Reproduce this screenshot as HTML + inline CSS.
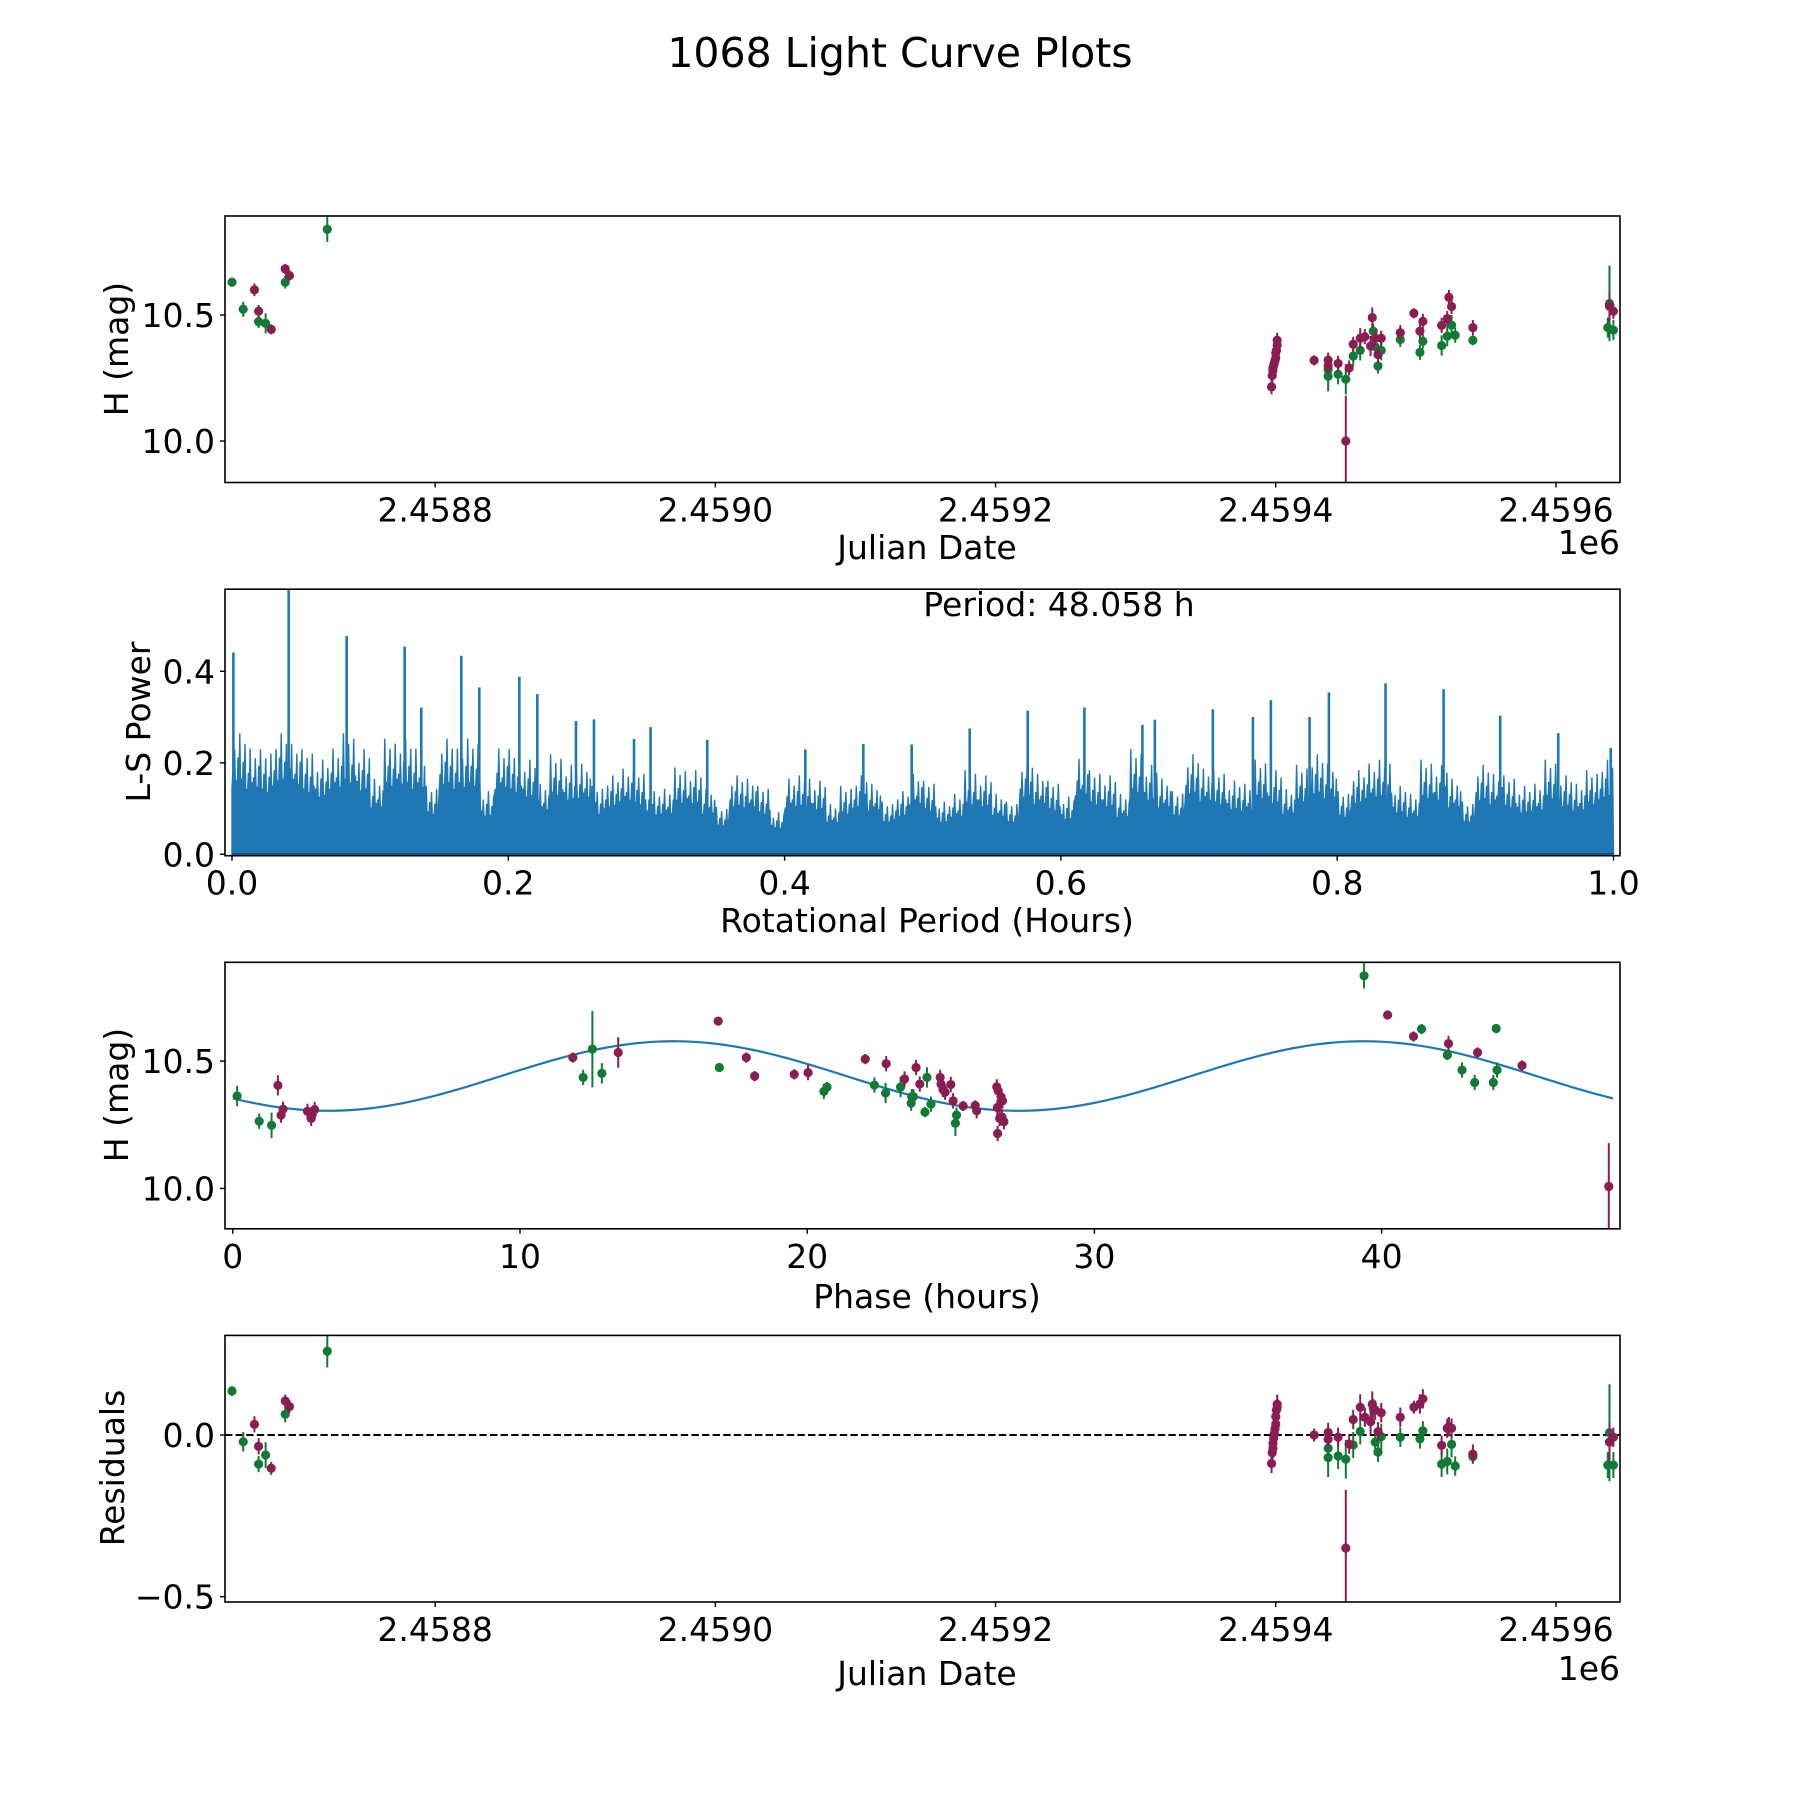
<!DOCTYPE html>
<html><head><meta charset="utf-8"><title>1068 Light Curve Plots</title>
<style>
html,body{margin:0;padding:0;background:#fff;}
svg{display:block;font-family:"DejaVu Sans","Liberation Sans",sans-serif;}
</style></head>
<body>
<svg id="fig" xmlns="http://www.w3.org/2000/svg" width="1800" height="1800" viewBox="0 0 1800 1800">
<rect x="0" y="0" width="1800" height="1800" fill="#fff"/>
<text x="900" y="67" font-size="41" text-anchor="middle">1068 Light Curve Plots</text>
</svg>
<script>
// ---------- data: panel 1 (H mag vs Julian Date) ----------
const greenJD = [2458655,2458663,2458674,2458679,2458693,2458723,2459437.4,2459437.4,2459444.5,2459450,2459455.3,2459460.3,2459469.6,2459471,2459473,2459475.3,2459488.9,2459502.9,2459505,2459518.4,2459522.4,2459525.5,2459528.1,2459540.7,2459637,2459638.2,2459641];
const greenMag = [10.63,10.523,10.474,10.467,10.63,10.84,10.283,10.257,10.265,10.245,10.337,10.36,10.436,10.374,10.298,10.36,10.403,10.352,10.396,10.379,10.416,10.46,10.42,10.4,10.45,10.546,10.44];
const greenErr = [0.015,0.03,0.025,0.04,0.025,0.05,0.03,0.06,0.04,0.06,0.04,0.04,0.03,0.04,0.03,0.04,0.03,0.03,0.03,0.04,0.04,0.04,0.03,0.02,0.04,0.15,0.04];
const greenRes = [0.136,-0.021,-0.09,-0.062,0.064,0.259,-0.041,-0.07,-0.065,-0.075,-0.031,0.011,0.082,-0.022,-0.053,-0.005,-0.007,-0.012,0.013,-0.09,-0.082,-0.029,-0.096,-0.067,-0.093,0.007,-0.093];

const magJD = [2458671,2458674,2458683,2458693,2458696,2459397,2459397.5,2459398,2459398,2459398.5,2459399,2459399.5,2459400,2459400,2459400.5,2459401,2459401,2459427.4,2459437.4,2459437.4,2459444.5,2459450,2459452.4,2459455.3,2459460.3,2459463.6,2459467.7,2459468.9,2459471,2459473,2459475.3,2459488.9,2459498.6,2459502.9,2459505,2459518.4,2459522.4,2459523.6,2459525.5,2459540.7,2459638.2,2459641];
const magMag = [10.60,10.515,10.443,10.683,10.657,10.215,10.26,10.28,10.29,10.30,10.31,10.32,10.33,10.35,10.36,10.38,10.40,10.32,10.321,10.298,10.308,10.0,10.29,10.384,10.408,10.414,10.377,10.49,10.408,10.343,10.408,10.43,10.507,10.436,10.475,10.459,10.486,10.57,10.534,10.45,10.535,10.515];
const magErr = [0.025,0.025,0.02,0.02,0.02,0.03,0.03,0.03,0.03,0.03,0.03,0.03,0.03,0.03,0.03,0.03,0.03,0.02,0.03,0.03,0.03,0.18,0.03,0.03,0.04,0.03,0.04,0.04,0.03,0.03,0.03,0.03,0.02,0.03,0.03,0.03,0.03,0.03,0.03,0.03,0.06,0.03];
const magRes = [0.033,-0.035,-0.103,0.105,0.088,-0.088,-0.055,-0.041,-0.026,-0.01,0.005,0.02,0.034,0.057,0.077,0.085,0.095,0.0,0.008,-0.013,-0.007,-0.35,-0.028,0.048,0.086,0.055,0.041,0.095,0.077,0.01,0.069,0.055,0.086,0.096,0.112,-0.032,0.021,0.026,0.021,-0.059,-0.022,-0.007];

const jdTicks = [2458800,2459000,2459200,2459400,2459600];
const jdTickLabels = ["2.4588","2.4590","2.4592","2.4594","2.4596"];
const magTicks = [10.0,10.5];
const magTickLabels = ["10.0","10.5"];
const resTicks = [0.0,-0.5];
const resTickLabels = ["0.0","\u22120.5"];

// ---------- data: panel 2 (periodogram) ----------
const lsBinStart = 0.0, lsBinWidth = 0.01;
const lsEnvelope = [0.23,0.21,0.2,0.23,0.22,0.2,0.18,0.21,0.23,0.2,0.15,0.22,0.22,0.21,0.13,0.22,0.21,0.22,0.12,0.21,0.2,0.18,0.14,0.19,0.17,0.18,0.13,0.15,0.17,0.16,0.12,0.13,0.165,0.16,0.13,0.09,0.15,0.15,0.13,0.08,0.15,0.15,0.14,0.1,0.13,0.15,0.14,0.1,0.12,0.16,0.14,0.1,0.12,0.16,0.15,0.12,0.1,0.18,0.16,0.14,0.11,0.19,0.16,0.15,0.12,0.2,0.17,0.15,0.12,0.19,0.17,0.16,0.14,0.14,0.18,0.16,0.13,0.17,0.19,0.18,0.12,0.16,0.18,0.18,0.13,0.12,0.18,0.17,0.15,0.1,0.17,0.16,0.15,0.13,0.14,0.18,0.15,0.14,0.16,0.18];
const spikeFreq = [0.001,0.041,0.083,0.125,0.137,0.166,0.179,0.208,0.221,0.249,0.262,0.291,0.303,0.344,0.415,0.457,0.492,0.534,0.576,0.617,0.659,0.668,0.71,0.739,0.752,0.78,0.794,0.835,0.877,0.918,0.96,0.998];
const spikePower = [0.441,0.6,0.477,0.454,0.321,0.434,0.365,0.388,0.35,0.291,0.295,0.252,0.278,0.25,0.229,0.241,0.24,0.275,0.314,0.321,0.283,0.294,0.317,0.3,0.337,0.3,0.354,0.374,0.361,0.303,0.265,0.232];
const lsXTicks = [0,0.2,0.4,0.6,0.8,1.0];
const lsXTickLabels = ["0.0","0.2","0.4","0.6","0.8","1.0"];
const lsYTicks = [0,0.2,0.4];
const lsYTickLabels = ["0.0","0.2","0.4"];

// ---------- data: panel 3 (phase-folded) ----------
const greenPhase = [0.15,0.92,1.35,12.2,12.52,12.85,16.94,20.58,20.69,22.34,22.73,23.25,23.62,23.64,23.7,24.1,24.17,24.31,25.16,25.2,39.39,41.39,42.29,42.8,43.24,43.89,43.99,44.02];
const greenPhaseMag = [10.363,10.264,10.248,10.436,10.547,10.452,10.475,10.381,10.398,10.406,10.375,10.398,10.335,10.36,10.36,10.3,10.436,10.331,10.256,10.288,10.835,10.626,10.524,10.465,10.416,10.416,10.628,10.465];
const greenPhaseErr = [0.04,0.03,0.05,0.03,0.15,0.04,0.015,0.03,0.02,0.03,0.04,0.04,0.03,0.03,0.03,0.02,0.04,0.03,0.05,0.03,0.05,0.02,0.02,0.03,0.03,0.03,0.015,0.03];
const magPhase = [1.57,1.68,1.75,2.6,2.73,2.76,2.85,11.84,13.42,16.9,17.88,18.17,19.55,20.03,22.02,22.75,23.39,23.79,23.92,24.63,24.66,24.73,24.8,25.0,25.08,25.43,25.85,25.9,26.6,26.65,26.75,26.8,26.62,26.7,26.85,26.63,26.78,40.21,41.11,42.33,43.34,44.89,47.91];
const magPhaseMag = [10.405,10.288,10.311,10.303,10.275,10.29,10.31,10.514,10.534,10.657,10.514,10.441,10.448,10.455,10.508,10.49,10.43,10.475,10.41,10.436,10.41,10.388,10.378,10.408,10.344,10.324,10.326,10.305,10.399,10.383,10.36,10.344,10.318,10.275,10.262,10.216,10.28,10.681,10.597,10.569,10.534,10.483,10.008];
const magPhaseErr = [0.04,0.03,0.03,0.03,0.03,0.03,0.03,0.02,0.06,0.015,0.02,0.02,0.02,0.03,0.02,0.03,0.03,0.03,0.03,0.03,0.03,0.03,0.03,0.03,0.03,0.02,0.02,0.03,0.03,0.03,0.03,0.03,0.03,0.03,0.03,0.03,0.03,0.015,0.02,0.03,0.02,0.02,0.17];
const fitMean = [10.4415];
const fitAmp = [0.1365];
const fitPeakPhase = [15.35];
const fitHalfPeriod = [24.029];
const fitRange = [0, 48.058];
const phTicks = [0,10,20,30,40];
const phTickLabels = ["0","10","20","30","40"];

// ---------- layout ----------
const NS = "http://www.w3.org/2000/svg";
const svg = document.getElementById('fig');
const L = 225, R = 1620;
const panels = [[216,482.5],[589.2,855.7],[962.3,1228.8],[1335.4,1602]];
const GREEN = "#117a35", MAGENTA = "#8a1d52", BLUE = "#1f77b4";
// visual texture for the dense periodogram top edge (style, not data)
const jag = [0.8,1.0,0.7,0.92,1.15,0.72,0.88,1.05,0.68,0.85,1.1,0.75];

function mk(tag, attrs, parent){ const e=document.createElementNS(NS,tag); for(const k in attrs) e.setAttribute(k,attrs[k]); (parent||svg).appendChild(e); return e; }

const xJD = v => 225 + (v-2458650)*1.401;
const yMag1 = v => 216 + (10.893-v)*252;
const xLS = v => 232 + v*1381.5;
const yLS = v => 854.3 - v*457.5;
const xPh = v => 232.8 + v*28.72;
const yMag3 = v => 962.3 + (10.888-v)*254.7;
const yRes = v => 1435 - v*323.3;

const defs = mk('defs',{});
panels.forEach((p,i)=>{ const c=mk('clipPath',{id:'clip'+i},defs); mk('rect',{x:L,y:p[0],width:R-L,height:p[1]-p[0]},c); });

function frame(i,name){
  const p=panels[i];
  const r=mk('rect',{x:L,y:p[0],width:R-L,height:p[1]-p[0],fill:'none',stroke:'#000','stroke-width':1.6});
  
  
}
function xTicks(i,vals,labels,fx,name){
  const yb=panels[i][1];
  const g=mk('g',{});
  
  
  vals.forEach((v,k)=>{
    const x=fx(v);
    mk('line',{x1:x,x2:x,y1:yb,y2:yb+5,stroke:'#000','stroke-width':1.4},g);
    const t=mk('text',{x:x,y:yb+39,'font-size':33,'text-anchor':'middle'},g);
    t.textContent=labels[k];
    
    
  });
}
function yTicks(i,vals,labels,fy,name){
  const g=mk('g',{});
  
  
  vals.forEach((v,k)=>{
    const y=fy(v);
    mk('line',{x1:L-5,x2:L,y1:y,y2:y,stroke:'#000','stroke-width':1.4},g);
    const t=mk('text',{x:L-10,y:y+12,'font-size':33,'text-anchor':'end'},g);
    t.textContent=labels[k];
    
    
  });
}
function label(txt,x,y,rot,name,anchor){
  const t=mk('text',{x:x,y:y,'font-size':33,'text-anchor':anchor||'middle'});
  if(rot) t.setAttribute('transform','rotate(-90 '+x+' '+y+')');
  t.textContent=txt;
  
  
}
function errorbars(i,xs,ys,es,fx,fy,color,name){
  const g=mk('g',{'clip-path':'url(#clip'+i+')'});
  
  
  xs.forEach((xv,k)=>{
    const x=fx(xv);
    const ln=mk('line',{x1:x,x2:x,y1:fy(ys[k]+es[k]),y2:fy(ys[k]-es[k]),stroke:color,'stroke-width':2},g);
    
    
    const c=mk('circle',{cx:x,cy:fy(ys[k]),r:4.6,fill:color},g);
    
    
  });
}

// ---------- panel 1 ----------
errorbars(0,greenJD,greenMag,greenErr,xJD,yMag1,GREEN,'green-filter-points');
errorbars(0,magJD,magMag,magErr,xJD,yMag1,MAGENTA,'magenta-filter-points');
frame(0,'lightcurve-panel');
xTicks(0,jdTicks,jdTickLabels,xJD,'lightcurve');
yTicks(0,magTicks,magTickLabels,yMag1,'lightcurve');
label('Julian Date',927,559,false,'lightcurve-x-title');
label('1e6',1620,554,false,'lightcurve-offset-label','end');
label('H (mag)',128,349,true,'lightcurve-y-title');

// ---------- panel 2 ----------
(function(){
  const g=mk('g',{'clip-path':'url(#clip1)'});
  
  
  let d='M'+xLS(lsBinStart)+' '+yLS(0);
  let j=0;
  lsEnvelope.forEach((v,k)=>{
    const x0=xLS(lsBinStart+k*lsBinWidth), x1=xLS(lsBinStart+(k+1)*lsBinWidth);
    const steps=8;
    for(let s=0;s<steps;s++){
      const xa=x0+(x1-x0)*s/steps, xb=x0+(x1-x0)*(s+0.5)/steps;
      const f=jag[j%jag.length]; j++;
      d+=' L'+xa.toFixed(1)+' '+yLS(v*0.62).toFixed(1)+' L'+xb.toFixed(1)+' '+yLS(v*f).toFixed(1);
    }
  });
  d+=' L'+xLS(lsBinStart+lsEnvelope.length*lsBinWidth)+' '+yLS(0)+' Z';
  const p=mk('path',{d:d,fill:BLUE,stroke:BLUE,'stroke-width':1.4,'stroke-linejoin':'miter'},g);
  
  
  spikeFreq.forEach((f,k)=>{
    const x=xLS(f);
    const s=mk('line',{x1:x,x2:x,y1:yLS(0),y2:yLS(spikePower[k]),stroke:BLUE,'stroke-width':2.6},g);
    
    
  });
  mk('line',{x1:xLS(0),x2:xLS(1),y1:yLS(0)-0.5,y2:yLS(0)-0.5,stroke:'#0d3f66','stroke-width':1},g);
})();
frame(1,'periodogram-panel');
xTicks(1,lsXTicks,lsXTickLabels,xLS,'periodogram');
yTicks(1,lsYTicks,lsYTickLabels,yLS,'periodogram');
label('Rotational Period (Hours)',927,932,false,'periodogram-x-title');
label('L-S Power',150,722,true,'periodogram-y-title');
label('Period: 48.058 h',1059,616,false,'period-annotation');

// ---------- panel 3 ----------
(function(){
  const g=mk('g',{'clip-path':'url(#clip2)'});
  
  
  let d='';
  const n=300;
  for(let k=0;k<=n;k++){
    const ph=fitRange[0]+(fitRange[1]-fitRange[0])*k/n;
    const m=fitMean[0]+fitAmp[0]*Math.sin(2*Math.PI*(ph-fitPeakPhase[0])/fitHalfPeriod[0]+Math.PI/2);
    d+=(k?' L':'M')+xPh(ph).toFixed(2)+' '+yMag3(m).toFixed(2);
  }
  const p=mk('path',{d:d,fill:'none',stroke:BLUE,'stroke-width':2.2},g);
  
  
})();
errorbars(2,greenPhase,greenPhaseMag,greenPhaseErr,xPh,yMag3,GREEN,'green-phase-points');
errorbars(2,magPhase,magPhaseMag,magPhaseErr,xPh,yMag3,MAGENTA,'magenta-phase-points');
frame(2,'phase-panel');
xTicks(2,phTicks,phTickLabels,xPh,'phase');
yTicks(2,magTicks,magTickLabels,yMag3,'phase');
label('Phase (hours)',927,1308,false,'phase-x-title');
label('H (mag)',128,1095,true,'phase-y-title');

// ---------- panel 4 ----------
(function(){
  const z=mk('line',{x1:L,x2:R,y1:yRes(0),y2:yRes(0),stroke:'#000','stroke-width':2,'stroke-dasharray':'7.4,3.2'});
  
  
})();
errorbars(3,greenJD,greenRes,greenErr,xJD,yRes,GREEN,'green-residual-points');
errorbars(3,magJD,magRes,magErr,xJD,yRes,MAGENTA,'magenta-residual-points');
frame(3,'residuals-panel');
xTicks(3,jdTicks,jdTickLabels,xJD,'residuals');
yTicks(3,resTicks,resTickLabels,yRes,'residuals');
label('Julian Date',927,1685,false,'residuals-x-title');
label('1e6',1620,1680,false,'residuals-offset-label','end');
label('Residuals',124,1468,true,'residuals-y-title');
</script>
</body></html>
